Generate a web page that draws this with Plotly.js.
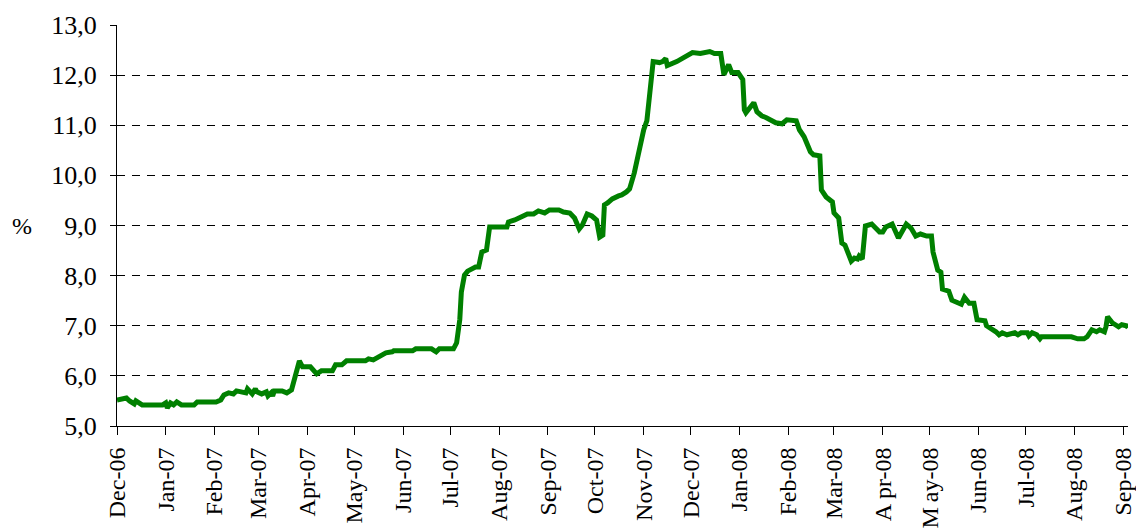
<!DOCTYPE html>
<html>
<head>
<meta charset="utf-8">
<script src="https://cdn.plot.ly/plotly-3.0.1.min.js"></script>
<style>html,body{margin:0;padding:0;background:#fff;}#chart{width:1136px;height:528px;}</style>
</head>
<body>
<div id="chart"></div>
<script>
const dates = [
'2006-12-01','2006-12-07','2006-12-09','2006-12-12','2006-12-13','2006-12-15','2006-12-17','2006-12-30',
'2007-01-01','2007-01-02','2007-01-04','2007-01-06','2007-01-08','2007-01-11','2007-01-19','2007-01-21',
'2007-02-02','2007-02-05','2007-02-07','2007-02-10','2007-02-13','2007-02-15','2007-02-18','2007-02-21','2007-02-22','2007-02-25','2007-02-27','2007-02-28',
'2007-03-03','2007-03-06','2007-03-07','2007-03-09','2007-03-10','2007-03-11','2007-03-16','2007-03-19','2007-03-22','2007-03-24','2007-03-26','2007-03-27','2007-03-29',
'2007-04-03','2007-04-07','2007-04-10','2007-04-17','2007-04-19','2007-04-23','2007-04-26',
'2007-05-08','2007-05-10','2007-05-13','2007-05-17','2007-05-21','2007-05-25','2007-05-26',
'2007-06-07','2007-06-09','2007-06-19','2007-06-22','2007-06-24',
'2007-07-03','2007-07-05','2007-07-07','2007-07-08','2007-07-10','2007-07-12','2007-07-14','2007-07-17','2007-07-19','2007-07-21','2007-07-24','2007-07-26',
'2007-08-06','2007-08-07','2007-08-11','2007-08-14','2007-08-19','2007-08-23','2007-08-26','2007-08-30',
'2007-09-02','2007-09-08','2007-09-11','2007-09-15','2007-09-18','2007-09-21','2007-09-23','2007-09-26','2007-09-29',
'2007-10-02','2007-10-04','2007-10-06','2007-10-07','2007-10-09','2007-10-12','2007-10-16','2007-10-18','2007-10-21','2007-10-23','2007-10-26','2007-10-27','2007-10-29',
'2007-11-01','2007-11-03','2007-11-07','2007-11-11','2007-11-13','2007-11-15','2007-11-16','2007-11-22','2007-11-25','2007-11-29',
'2007-12-02','2007-12-07','2007-12-13','2007-12-16','2007-12-20','2007-12-22','2007-12-25','2007-12-27','2007-12-31',
'2008-01-03','2008-01-04','2008-01-05','2008-01-10','2008-01-12','2008-01-15','2008-01-18','2008-01-24','2008-01-28','2008-01-31',
'2008-02-06','2008-02-08','2008-02-11','2008-02-15','2008-02-17','2008-02-21','2008-02-22','2008-02-25','2008-02-29',
'2008-03-01','2008-03-04','2008-03-06','2008-03-08','2008-03-12','2008-03-14','2008-03-16','2008-03-17','2008-03-19','2008-03-21','2008-03-25','2008-03-30',
'2008-04-01','2008-04-03','2008-04-07','2008-04-11','2008-04-16','2008-04-19','2008-04-22','2008-04-25','2008-04-29',
'2008-05-02','2008-05-03','2008-05-06','2008-05-08','2008-05-09','2008-05-13','2008-05-15','2008-05-21','2008-05-23','2008-05-26','2008-05-29','2008-05-31',
'2008-06-05','2008-06-06','2008-06-12','2008-06-14','2008-06-16','2008-06-19','2008-06-24','2008-06-26','2008-06-28',
'2008-07-02','2008-07-03','2008-07-05','2008-07-08','2008-07-10','2008-07-11','2008-07-30',
'2008-08-03','2008-08-07','2008-08-09','2008-08-12','2008-08-15','2008-08-17','2008-08-20','2008-08-21','2008-08-22','2008-08-25','2008-08-29','2008-08-31',
'2008-09-03','2008-09-04'
];
const rates = [
5.52,5.56,5.50,5.44,5.50,5.46,5.42,5.42,
5.46,5.36,5.46,5.42,5.48,5.42,5.42,5.48,
5.48,5.52,5.62,5.66,5.64,5.70,5.68,5.66,5.74,5.64,5.74,5.68,
5.64,5.68,5.60,5.66,5.60,5.70,5.70,5.66,5.72,5.92,6.18,6.30,6.18,
6.18,6.04,6.10,6.10,6.22,6.22,6.30,
6.30,6.34,6.32,6.40,6.46,6.48,6.50,
6.50,6.54,6.54,6.48,6.54,
6.54,6.66,7.12,7.67,8.01,8.09,8.13,8.17,8.17,8.47,8.51,8.97,
8.97,9.07,9.11,9.15,9.23,9.23,9.29,9.25,
9.31,9.31,9.27,9.25,9.15,8.93,9.01,9.23,9.19,
9.11,8.77,8.81,9.41,9.45,9.53,9.59,9.61,9.67,9.73,10.05,10.21,10.51,
10.91,11.09,12.27,12.25,12.27,12.33,12.19,12.27,12.33,12.39,
12.45,12.43,12.47,12.43,12.43,12.01,12.21,12.05,12.05,
11.91,11.31,11.25,11.45,11.27,11.19,11.15,11.05,11.03,11.11,
11.09,10.91,10.77,10.47,10.41,10.39,9.71,9.57,9.47,
9.25,9.15,8.65,8.61,8.29,8.35,8.33,8.39,8.33,8.99,9.03,8.87,
8.87,8.97,9.03,8.75,9.03,8.95,8.79,8.83,8.79,
8.79,8.47,8.11,8.07,7.73,7.69,7.51,7.43,7.57,7.45,7.45,7.12,
7.10,7.00,6.88,6.82,6.86,6.82,6.86,6.82,6.86,
6.86,6.80,6.86,6.82,6.74,6.78,6.78,
6.74,6.74,6.78,6.92,6.88,6.92,6.88,6.98,7.18,7.06,6.98,7.02,
7.00,6.96
];
const tickDates = ['2006-12-01','2007-01-01','2007-02-01','2007-03-01','2007-04-01','2007-05-01','2007-06-01','2007-07-01','2007-08-01','2007-09-01','2007-10-01','2007-11-01','2007-12-01','2008-01-01','2008-02-01','2008-03-01','2008-04-01','2008-05-01','2008-06-01','2008-07-01','2008-08-01','2008-09-01'];
const tickLabels = ['Dec-06','Jan-07','Feb-07','Mar-07','Apr-07','May-07','Jun-07','Jul-07','Aug-07','Sep-07','Oct-07','Nov-07','Dec-07','Jan-08','Feb-08','Mar-08','A\u2009pr-08','M\u2009ay-08','Jun-08','Jul-08','Aug-08','Sep-08'];
const yTicks = [5,6,7,8,9,10,11,12,13];
const yLabel = '%';

const font = 'Liberation Serif, Times New Roman, serif';
Plotly.newPlot('chart', [{
  x: dates, y: rates, type: 'scatter', mode: 'lines',
  line: {color: '#008000', width: 5},
  hoverinfo: 'skip'
}], {
  width: 1136, height: 528,
  margin: {l: 117, r: 8, t: 25, b: 102},
  paper_bgcolor: '#fff', plot_bgcolor: '#fff',
  separators: ', ',
  showlegend: false,
  font: {family: font, color: '#000', size: 24},
  xaxis: {
    type: 'date', range: ['2006-12-01', '2008-09-04'],
    tickmode: 'array', tickvals: tickDates, ticktext: tickLabels,
    tickangle: -90, tickfont: {family: font, size: 24, color: '#000'},
    ticklabeloverflow: 'allow',
    showline: true, linecolor: '#000', linewidth: 1,
    ticks: 'outside', ticklen: 8, tickcolor: '#000', tickwidth: 1,
    ticklabelstandoff: 3,
    showgrid: false, zeroline: false
  },
  yaxis: {
    range: [5, 13], tickmode: 'array', tickvals: yTicks,
    tickformat: '.1f', tickfont: {family: font, size: 26, color: '#000'},
    showline: true, linecolor: '#000', linewidth: 1,
    ticks: 'outside', ticklen: 6, tickcolor: '#000', tickwidth: 1,
    ticklabelstandoff: 8,
    showgrid: true, gridcolor: '#000', gridwidth: 1, griddash: '8px,7px',
    zeroline: false
  },
  annotations: [{
    text: yLabel, xref: 'paper', yref: 'y', x: -0.094, y: 9,
    xanchor: 'center', yanchor: 'middle', showarrow: false,
    font: {family: font, size: 24, color: '#000'}
  }]
}, {displayModeBar: false, staticPlot: true});
</script>
</body>
</html>
